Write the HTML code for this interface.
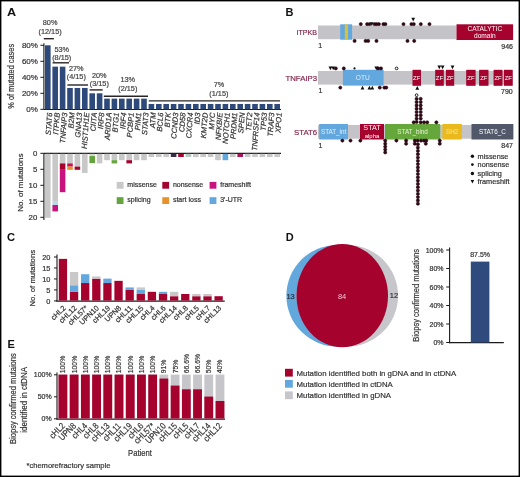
<!DOCTYPE html>
<html><head><meta charset="utf-8"><style>
html,body{margin:0;padding:0;background:#fff;}
svg{display:block;font-family:"Liberation Sans",sans-serif;will-change:transform;}
text{stroke-width:0.2px;}
text[font-weight="bold"]{stroke-width:0;}
</style></head><body>
<svg width="520" height="477" viewBox="0 0 520 477">
<rect x="0" y="0" width="520" height="477" fill="#fff"/>
<text transform="translate(7.0,15.7) scale(1.12,1)" x="0" y="0" font-size="11.3" font-weight="bold" fill="#111" stroke="#111">A</text>
<line x1="43.9" y1="43.3" x2="43.9" y2="109.8" stroke="#1a1a1a" stroke-width="1.1"/>
<line x1="44" y1="109.5" x2="281" y2="109.5" stroke="#1a1a1a" stroke-width="1.1"/>
<line x1="40.4" y1="45.3" x2="43.9" y2="45.3" stroke="#1a1a1a" stroke-width="1"/>
<text x="37.9" y="48.099999999999994" font-size="8" text-anchor="end" fill="#333" stroke="#333" font-weight="normal"  style="">80%</text>
<line x1="40.4" y1="61.3" x2="43.9" y2="61.3" stroke="#1a1a1a" stroke-width="1"/>
<text x="37.9" y="64.1" font-size="8" text-anchor="end" fill="#333" stroke="#333" font-weight="normal"  style="">60%</text>
<line x1="40.4" y1="77.3" x2="43.9" y2="77.3" stroke="#1a1a1a" stroke-width="1"/>
<text x="37.9" y="80.1" font-size="8" text-anchor="end" fill="#333" stroke="#333" font-weight="normal"  style="">40%</text>
<line x1="40.4" y1="93.3" x2="43.9" y2="93.3" stroke="#1a1a1a" stroke-width="1"/>
<text x="37.9" y="96.1" font-size="8" text-anchor="end" fill="#333" stroke="#333" font-weight="normal"  style="">20%</text>
<line x1="40.4" y1="109.3" x2="43.9" y2="109.3" stroke="#1a1a1a" stroke-width="1"/>
<text x="37.9" y="112.1" font-size="8" text-anchor="end" fill="#333" stroke="#333" font-weight="normal"  style="">0%</text>
<text transform="translate(14.3,76.3) rotate(-90) scale(0.9,1)" font-size="8.2" text-anchor="middle" fill="#333" stroke="#333">% of mutated cases</text>
<rect x="45.00" y="45.30" width="5.60" height="64.00" fill="#2e4a7b" />
<text transform="translate(52.40,112.8) rotate(-86)" font-size="7.6" font-style="italic" text-anchor="end" fill="#333" stroke="#333">STAT6</text>
<rect x="52.40" y="66.64" width="5.60" height="42.66" fill="#2e4a7b" />
<text transform="translate(59.80,112.8) rotate(-86)" font-size="7.6" font-style="italic" text-anchor="end" fill="#333" stroke="#333">ITPKB</text>
<rect x="59.80" y="66.64" width="5.60" height="42.66" fill="#2e4a7b" />
<text transform="translate(67.20,112.8) rotate(-86)" font-size="7.6" font-style="italic" text-anchor="end" fill="#333" stroke="#333">TNFAIP3</text>
<rect x="67.20" y="87.96" width="5.60" height="21.34" fill="#2e4a7b" />
<text transform="translate(74.60,112.8) rotate(-86)" font-size="7.6" font-style="italic" text-anchor="end" fill="#333" stroke="#333">B2M</text>
<rect x="74.60" y="87.96" width="5.60" height="21.34" fill="#2e4a7b" />
<text transform="translate(82.00,112.8) rotate(-86)" font-size="7.6" font-style="italic" text-anchor="end" fill="#333" stroke="#333">GNA13</text>
<rect x="82.00" y="87.96" width="5.60" height="21.34" fill="#2e4a7b" />
<text transform="translate(89.40,112.8) rotate(-86)" font-size="7.6" font-style="italic" text-anchor="end" fill="#333" stroke="#333">HIST1H1E</text>
<rect x="89.40" y="93.30" width="5.60" height="16.00" fill="#2e4a7b" />
<text transform="translate(96.80,112.8) rotate(-86)" font-size="7.6" font-style="italic" text-anchor="end" fill="#333" stroke="#333">CIITA</text>
<rect x="96.80" y="93.30" width="5.60" height="16.00" fill="#2e4a7b" />
<text transform="translate(104.20,112.8) rotate(-86)" font-size="7.6" font-style="italic" text-anchor="end" fill="#333" stroke="#333">IRF8</text>
<rect x="104.20" y="98.64" width="5.60" height="10.66" fill="#2e4a7b" />
<text transform="translate(111.60,112.8) rotate(-86)" font-size="7.6" font-style="italic" text-anchor="end" fill="#333" stroke="#333">ARID1A</text>
<rect x="111.60" y="98.64" width="5.60" height="10.66" fill="#2e4a7b" />
<text transform="translate(119.00,112.8) rotate(-86)" font-size="7.6" font-style="italic" text-anchor="end" fill="#333" stroke="#333">BTG1</text>
<rect x="119.00" y="98.64" width="5.60" height="10.66" fill="#2e4a7b" />
<text transform="translate(126.40,112.8) rotate(-86)" font-size="7.6" font-style="italic" text-anchor="end" fill="#333" stroke="#333">IRF4</text>
<rect x="126.40" y="98.64" width="5.60" height="10.66" fill="#2e4a7b" />
<text transform="translate(133.80,112.8) rotate(-86)" font-size="7.6" font-style="italic" text-anchor="end" fill="#333" stroke="#333">PCBP1</text>
<rect x="133.80" y="98.64" width="5.60" height="10.66" fill="#2e4a7b" />
<text transform="translate(141.20,112.8) rotate(-86)" font-size="7.6" font-style="italic" text-anchor="end" fill="#333" stroke="#333">PIM1</text>
<rect x="141.20" y="98.64" width="5.60" height="10.66" fill="#2e4a7b" />
<text transform="translate(148.60,112.8) rotate(-86)" font-size="7.6" font-style="italic" text-anchor="end" fill="#333" stroke="#333">STAT3</text>
<rect x="148.60" y="103.96" width="5.60" height="5.34" fill="#2e4a7b" />
<text transform="translate(156.00,112.8) rotate(-86)" font-size="7.6" font-style="italic" text-anchor="end" fill="#333" stroke="#333">ATM</text>
<rect x="156.00" y="103.96" width="5.60" height="5.34" fill="#2e4a7b" />
<text transform="translate(163.40,112.8) rotate(-86)" font-size="7.6" font-style="italic" text-anchor="end" fill="#333" stroke="#333">BCL6</text>
<rect x="163.40" y="103.96" width="5.60" height="5.34" fill="#2e4a7b" />
<text transform="translate(170.80,112.8) rotate(-86)" font-size="7.6" font-style="italic" text-anchor="end" fill="#333" stroke="#333">BTK</text>
<rect x="170.80" y="103.96" width="5.60" height="5.34" fill="#2e4a7b" />
<text transform="translate(178.20,112.8) rotate(-86)" font-size="7.6" font-style="italic" text-anchor="end" fill="#333" stroke="#333">CCND3</text>
<rect x="178.20" y="103.96" width="5.60" height="5.34" fill="#2e4a7b" />
<text transform="translate(185.60,112.8) rotate(-86)" font-size="7.6" font-style="italic" text-anchor="end" fill="#333" stroke="#333">CD58</text>
<rect x="185.60" y="103.96" width="5.60" height="5.34" fill="#2e4a7b" />
<text transform="translate(193.00,112.8) rotate(-86)" font-size="7.6" font-style="italic" text-anchor="end" fill="#333" stroke="#333">CXCR4</text>
<rect x="193.00" y="103.96" width="5.60" height="5.34" fill="#2e4a7b" />
<text transform="translate(200.40,112.8) rotate(-86)" font-size="7.6" font-style="italic" text-anchor="end" fill="#333" stroke="#333">ID3</text>
<rect x="200.40" y="103.96" width="5.60" height="5.34" fill="#2e4a7b" />
<text transform="translate(207.80,112.8) rotate(-86)" font-size="7.6" font-style="italic" text-anchor="end" fill="#333" stroke="#333">KMT2D</text>
<rect x="207.80" y="103.96" width="5.60" height="5.34" fill="#2e4a7b" />
<text transform="translate(215.20,112.8) rotate(-86)" font-size="7.6" font-style="italic" text-anchor="end" fill="#333" stroke="#333">MYC</text>
<rect x="215.20" y="103.96" width="5.60" height="5.34" fill="#2e4a7b" />
<text transform="translate(222.60,112.8) rotate(-86)" font-size="7.6" font-style="italic" text-anchor="end" fill="#333" stroke="#333">NFKBIE</text>
<rect x="222.60" y="103.96" width="5.60" height="5.34" fill="#2e4a7b" />
<text transform="translate(230.00,112.8) rotate(-86)" font-size="7.6" font-style="italic" text-anchor="end" fill="#333" stroke="#333">NOTCH1</text>
<rect x="230.00" y="103.96" width="5.60" height="5.34" fill="#2e4a7b" />
<text transform="translate(237.40,112.8) rotate(-86)" font-size="7.6" font-style="italic" text-anchor="end" fill="#333" stroke="#333">PRDM1</text>
<rect x="237.40" y="103.96" width="5.60" height="5.34" fill="#2e4a7b" />
<text transform="translate(244.80,112.8) rotate(-86)" font-size="7.6" font-style="italic" text-anchor="end" fill="#333" stroke="#333">SPEN</text>
<rect x="244.80" y="103.96" width="5.60" height="5.34" fill="#2e4a7b" />
<text transform="translate(252.20,112.8) rotate(-86)" font-size="7.6" font-style="italic" text-anchor="end" fill="#333" stroke="#333">TET2</text>
<rect x="252.20" y="103.96" width="5.60" height="5.34" fill="#2e4a7b" />
<text transform="translate(259.60,112.8) rotate(-86)" font-size="7.6" font-style="italic" text-anchor="end" fill="#333" stroke="#333">TNFRSF14</text>
<rect x="259.60" y="103.96" width="5.60" height="5.34" fill="#2e4a7b" />
<text transform="translate(267.00,112.8) rotate(-86)" font-size="7.6" font-style="italic" text-anchor="end" fill="#333" stroke="#333">TP53</text>
<rect x="267.00" y="103.96" width="5.60" height="5.34" fill="#2e4a7b" />
<text transform="translate(274.40,112.8) rotate(-86)" font-size="7.6" font-style="italic" text-anchor="end" fill="#333" stroke="#333">TRAF3</text>
<rect x="274.40" y="103.96" width="5.60" height="5.34" fill="#2e4a7b" />
<text transform="translate(281.80,112.8) rotate(-86)" font-size="7.6" font-style="italic" text-anchor="end" fill="#333" stroke="#333">XPO1</text>
<text x="50.099999999999994" y="25.2" font-size="7.3" text-anchor="middle" fill="#444" stroke="#444" font-weight="normal"  style="">80%</text>
<text x="50.099999999999994" y="34.2" font-size="7.3" text-anchor="middle" fill="#444" stroke="#444" font-weight="normal"  style="">(12/15)</text>
<line x1="43.8" y1="38.7" x2="53.9" y2="38.7" stroke="#2a2424" stroke-width="1.4"/>
<text x="61.699999999999996" y="52.1" font-size="7.3" text-anchor="middle" fill="#444" stroke="#444" font-weight="normal"  style="">53%</text>
<text x="61.699999999999996" y="60.0" font-size="7.3" text-anchor="middle" fill="#444" stroke="#444" font-weight="normal"  style="">(8/15)</text>
<line x1="52.6" y1="62.8" x2="69.0" y2="62.8" stroke="#2a2424" stroke-width="1.4"/>
<text x="76.3" y="71.0" font-size="7.3" text-anchor="middle" fill="#444" stroke="#444" font-weight="normal"  style="">27%</text>
<text x="76.3" y="79.2" font-size="7.3" text-anchor="middle" fill="#444" stroke="#444" font-weight="normal"  style="">(4/15)</text>
<line x1="67.4" y1="85.0" x2="88.0" y2="85.0" stroke="#2a2424" stroke-width="1.4"/>
<text x="99.3" y="78.0" font-size="7.3" text-anchor="middle" fill="#444" stroke="#444" font-weight="normal"  style="">20%</text>
<text x="99.3" y="86.3" font-size="7.3" text-anchor="middle" fill="#444" stroke="#444" font-weight="normal"  style="">(3/15)</text>
<line x1="89.6" y1="89.9" x2="102.7" y2="89.9" stroke="#2a2424" stroke-width="1.4"/>
<text x="127.8" y="82.4" font-size="7.3" text-anchor="middle" fill="#444" stroke="#444" font-weight="normal"  style="">13%</text>
<text x="127.8" y="91.3" font-size="7.3" text-anchor="middle" fill="#444" stroke="#444" font-weight="normal"  style="">(2/15)</text>
<line x1="103.8" y1="96.2" x2="148.0" y2="96.2" stroke="#2a2424" stroke-width="1.4"/>
<text x="218.9" y="86.6" font-size="7.3" text-anchor="middle" fill="#444" stroke="#444" font-weight="normal"  style="">7%</text>
<text x="218.9" y="95.8" font-size="7.3" text-anchor="middle" fill="#444" stroke="#444" font-weight="normal"  style="">(1/15)</text>
<line x1="148.8" y1="100.9" x2="280.0" y2="100.9" stroke="#2a2424" stroke-width="1.4"/>
<line x1="44" y1="153.3" x2="281" y2="153.3" stroke="#1a1a1a" stroke-width="1.2"/>
<line x1="43.9" y1="153" x2="43.9" y2="220" stroke="#1a1a1a" stroke-width="1.1"/>
<line x1="40.4" y1="153.3" x2="43.9" y2="153.3" stroke="#1a1a1a" stroke-width="1"/>
<text x="37.3" y="156.10000000000002" font-size="7.8" text-anchor="end" fill="#333" stroke="#333" font-weight="normal"  style="">0</text>
<line x1="40.4" y1="169.3" x2="43.9" y2="169.3" stroke="#1a1a1a" stroke-width="1"/>
<text x="37.3" y="172.10000000000002" font-size="7.8" text-anchor="end" fill="#333" stroke="#333" font-weight="normal"  style="">5</text>
<line x1="40.4" y1="185.3" x2="43.9" y2="185.3" stroke="#1a1a1a" stroke-width="1"/>
<text x="37.3" y="188.10000000000002" font-size="7.8" text-anchor="end" fill="#333" stroke="#333" font-weight="normal"  style="">10</text>
<line x1="40.4" y1="201.3" x2="43.9" y2="201.3" stroke="#1a1a1a" stroke-width="1"/>
<text x="37.3" y="204.10000000000002" font-size="7.8" text-anchor="end" fill="#333" stroke="#333" font-weight="normal"  style="">15</text>
<line x1="40.4" y1="217.3" x2="43.9" y2="217.3" stroke="#1a1a1a" stroke-width="1"/>
<text x="37.3" y="220.10000000000002" font-size="7.8" text-anchor="end" fill="#333" stroke="#333" font-weight="normal"  style="">20</text>
<text transform="translate(22.8,182.6) rotate(-90)" font-size="8.0" text-anchor="middle" fill="#333" stroke="#333">No. of mutations</text>
<rect x="45.00" y="153.80" width="5.60" height="64.00" fill="#c8c8c9" />
<rect x="52.40" y="153.80" width="5.60" height="48.00" fill="#c8c8c9" />
<rect x="52.40" y="201.80" width="5.60" height="3.20" fill="#bcd6ea" />
<rect x="52.40" y="205.00" width="5.60" height="6.40" fill="#c8127e" />
<rect x="59.80" y="153.80" width="5.60" height="9.60" fill="#c8c8c9" />
<rect x="59.80" y="163.40" width="5.60" height="6.40" fill="#a5022e" />
<rect x="59.80" y="169.80" width="5.60" height="22.40" fill="#c8127e" />
<rect x="67.20" y="153.80" width="5.60" height="9.60" fill="#c8c8c9" />
<rect x="67.20" y="163.40" width="5.60" height="3.20" fill="#c8104e" />
<rect x="67.20" y="166.60" width="5.60" height="3.20" fill="#e8902a" />
<rect x="74.60" y="153.80" width="5.60" height="12.80" fill="#c8c8c9" />
<rect x="74.60" y="166.60" width="5.60" height="3.20" fill="#a5022e" />
<rect x="82.00" y="153.80" width="5.60" height="19.20" fill="#c8c8c9" />
<rect x="89.40" y="153.80" width="5.60" height="2.24" fill="#d4d8d0" />
<rect x="89.40" y="156.04" width="5.60" height="7.04" fill="#64a43c" />
<rect x="96.80" y="153.80" width="5.60" height="9.60" fill="#c8c8c9" />
<rect x="104.20" y="153.80" width="5.60" height="6.40" fill="#c8c8c9" />
<rect x="111.60" y="153.80" width="5.60" height="6.40" fill="#c8c8c9" />
<rect x="111.60" y="160.20" width="5.60" height="3.20" fill="#64a43c" />
<rect x="119.00" y="153.80" width="5.60" height="6.40" fill="#c8c8c9" />
<rect x="126.40" y="153.80" width="5.60" height="6.40" fill="#c8c8c9" />
<rect x="126.40" y="160.20" width="5.60" height="3.20" fill="#a5022e" />
<rect x="133.80" y="153.80" width="5.60" height="6.40" fill="#c8c8c9" />
<rect x="141.20" y="153.80" width="5.60" height="6.40" fill="#c8c8c9" />
<rect x="148.60" y="153.80" width="5.60" height="3.20" fill="#c8c8c9" />
<rect x="156.00" y="153.80" width="5.60" height="3.20" fill="#c8c8c9" />
<rect x="163.40" y="153.80" width="5.60" height="3.20" fill="#c8c8c9" />
<rect x="170.80" y="153.80" width="5.60" height="3.20" fill="#3a2d48" />
<rect x="178.20" y="153.80" width="5.60" height="3.20" fill="#a5022e" />
<rect x="185.60" y="153.80" width="5.60" height="3.20" fill="#b8c6c2" />
<rect x="193.00" y="153.80" width="5.60" height="3.20" fill="#c8c8c9" />
<rect x="200.40" y="153.80" width="5.60" height="3.20" fill="#c8c8c9" />
<rect x="207.80" y="153.80" width="5.60" height="3.20" fill="#c8c8c9" />
<rect x="215.20" y="153.80" width="5.60" height="6.40" fill="#c8c8c9" />
<rect x="222.60" y="153.80" width="5.60" height="6.40" fill="#62a7de" />
<rect x="230.00" y="153.80" width="5.60" height="3.20" fill="#c8c8c9" />
<rect x="237.40" y="153.80" width="5.60" height="3.20" fill="#a8155a" />
<rect x="244.80" y="153.80" width="5.60" height="3.20" fill="#c8c8c9" />
<rect x="252.20" y="153.80" width="5.60" height="3.20" fill="#c8c8c9" />
<rect x="259.60" y="153.80" width="5.60" height="3.20" fill="#c8c8c9" />
<rect x="267.00" y="153.80" width="5.60" height="3.20" fill="#c8c8c9" />
<rect x="274.40" y="153.80" width="5.60" height="3.20" fill="#c8c8c9" />
<rect x="116.70" y="181.90" width="6.80" height="6.80" fill="#c8c8c9" />
<text x="127.3" y="186.9" font-size="7" text-anchor="start" fill="#333" stroke="#333" font-weight="normal"  style="">missense</text>
<rect x="162.30" y="181.90" width="6.80" height="6.80" fill="#a5022e" />
<text x="172.9" y="186.9" font-size="7" text-anchor="start" fill="#333" stroke="#333" font-weight="normal"  style="">nonsense</text>
<rect x="209.60" y="181.90" width="6.80" height="6.80" fill="#c8127e" />
<text x="220.2" y="186.9" font-size="7" text-anchor="start" fill="#333" stroke="#333" font-weight="normal"  style="">frameshift</text>
<rect x="116.70" y="197.20" width="6.80" height="6.80" fill="#64a43c" />
<text x="127.3" y="202.2" font-size="7" text-anchor="start" fill="#333" stroke="#333" font-weight="normal"  style="">splicing</text>
<rect x="162.30" y="197.20" width="6.80" height="6.80" fill="#e8902a" />
<text x="172.9" y="202.2" font-size="7" text-anchor="start" fill="#333" stroke="#333" font-weight="normal"  style="">start loss</text>
<rect x="209.60" y="197.20" width="6.80" height="6.80" fill="#62a7de" />
<text x="220.2" y="202.2" font-size="7" text-anchor="start" fill="#333" stroke="#333" font-weight="normal"  style="">3'-UTR</text>
<text x="285.6" y="15.7" font-size="11" text-anchor="start" fill="#111" stroke="#111" font-weight="bold"  style="">B</text>
<text x="296.6" y="34.8" font-size="8" fill="#86264a" stroke="#86264a" textLength="20.4" lengthAdjust="spacingAndGlyphs">ITPKB</text>
<rect x="318.00" y="25.50" width="138.50" height="13.70" fill="#c4c3c7" />
<rect x="340.20" y="24.30" width="11.90" height="15.40" fill="#62a7de" />
<rect x="344.80" y="24.30" width="3.20" height="15.40" fill="#d6c23a" />
<rect x="456.50" y="24.30" width="56.60" height="15.70" fill="#a5022e" />
<text x="484.8" y="31.0" font-size="6.6" text-anchor="middle" fill="#fff" font-weight="normal"  style="">CATALYTIC</text>
<text x="484.8" y="38.3" font-size="6.6" text-anchor="middle" fill="#fff" font-weight="normal"  style="">domain</text>
<text x="318.2" y="48.3" font-size="7" text-anchor="start" fill="#333" stroke="#333" font-weight="normal"  style="">1</text>
<text x="513" y="48.6" font-size="7" text-anchor="end" fill="#333" stroke="#333" font-weight="normal"  style="">946</text>
<circle cx="360.8" cy="24.1" r="1.6" fill="#34081a" stroke="#1a0206" stroke-width="0.5"/>
<circle cx="367.1" cy="24.1" r="1.6" fill="#34081a" stroke="#1a0206" stroke-width="0.5"/>
<circle cx="369.5" cy="24.1" r="1.6" fill="#34081a" stroke="#1a0206" stroke-width="0.5"/>
<circle cx="374.6" cy="24.1" r="1.6" fill="#34081a" stroke="#1a0206" stroke-width="0.5"/>
<circle cx="376.6" cy="24.1" r="1.6" fill="#34081a" stroke="#1a0206" stroke-width="0.5"/>
<circle cx="378.9" cy="24.1" r="1.6" fill="#34081a" stroke="#1a0206" stroke-width="0.5"/>
<circle cx="383.4" cy="24.1" r="1.6" fill="#34081a" stroke="#1a0206" stroke-width="0.5"/>
<circle cx="385.4" cy="24.1" r="1.6" fill="#34081a" stroke="#1a0206" stroke-width="0.5"/>
<circle cx="403.5" cy="24.1" r="1.6" fill="#34081a" stroke="#1a0206" stroke-width="0.5"/>
<circle cx="411.4" cy="24.1" r="1.6" fill="#34081a" stroke="#1a0206" stroke-width="0.5"/>
<circle cx="413.8" cy="24.1" r="1.6" fill="#34081a" stroke="#1a0206" stroke-width="0.5"/>
<circle cx="420.8" cy="24.1" r="1.6" fill="#34081a" stroke="#1a0206" stroke-width="0.5"/>
<circle cx="429.5" cy="24.1" r="1.6" fill="#34081a" stroke="#1a0206" stroke-width="0.5"/>
<path d="M369.90,22.20 L373.70,22.20 L371.80,26.00Z" fill="#111"/>
<path d="M411.30,17.70 L415.10,17.70 L413.20,21.50Z" fill="#111"/>
<circle cx="354.6" cy="40.9" r="1.6" fill="#34081a" stroke="#1a0206" stroke-width="0.5"/>
<circle cx="365.6" cy="40.9" r="1.6" fill="#34081a" stroke="#1a0206" stroke-width="0.5"/>
<circle cx="368.2" cy="40.9" r="1.6" fill="#34081a" stroke="#1a0206" stroke-width="0.5"/>
<circle cx="376.5" cy="40.9" r="1.6" fill="#34081a" stroke="#1a0206" stroke-width="0.5"/>
<circle cx="407.5" cy="40.9" r="1.6" fill="#34081a" stroke="#1a0206" stroke-width="0.5"/>
<circle cx="414.2" cy="40.9" r="1.6" fill="#34081a" stroke="#1a0206" stroke-width="0.5"/>
<text x="285.4" y="81.0" font-size="8" fill="#86264a" stroke="#86264a" textLength="31.8" lengthAdjust="spacingAndGlyphs">TNFAIP3</text>
<rect x="318.00" y="71.00" width="194.70" height="13.60" fill="#c4c3c7" />
<rect x="342.90" y="69.80" width="40.70" height="15.80" fill="#62a7de" />
<text x="362.8" y="79.6" font-size="6.6" text-anchor="middle" fill="#dcecf8" font-weight="normal"  style="">OTU</text>
<rect x="412.50" y="69.80" width="8.50" height="16.00" fill="#a5022e" />
<text x="416.75" y="80.0" font-size="6" text-anchor="middle" fill="#fff" font-weight="normal"  style="">ZF</text>
<rect x="435.20" y="69.80" width="8.60" height="16.00" fill="#a5022e" />
<text x="439.5" y="80.0" font-size="6" text-anchor="middle" fill="#fff" font-weight="normal"  style="">ZF</text>
<rect x="445.90" y="69.80" width="8.30" height="16.00" fill="#a5022e" />
<text x="450.04999999999995" y="80.0" font-size="6" text-anchor="middle" fill="#fff" font-weight="normal"  style="">ZF</text>
<rect x="466.20" y="69.80" width="9.40" height="16.00" fill="#a5022e" />
<text x="470.9" y="80.0" font-size="6" text-anchor="middle" fill="#fff" font-weight="normal"  style="">ZF</text>
<rect x="479.10" y="69.80" width="9.40" height="16.00" fill="#a5022e" />
<text x="483.8" y="80.0" font-size="6" text-anchor="middle" fill="#fff" font-weight="normal"  style="">ZF</text>
<rect x="493.60" y="69.80" width="8.90" height="16.00" fill="#a5022e" />
<text x="498.05" y="80.0" font-size="6" text-anchor="middle" fill="#fff" font-weight="normal"  style="">ZF</text>
<rect x="503.90" y="69.80" width="8.80" height="16.00" fill="#a5022e" />
<text x="508.3" y="80.0" font-size="6" text-anchor="middle" fill="#fff" font-weight="normal"  style="">ZF</text>
<text x="318.6" y="93.3" font-size="7" text-anchor="start" fill="#333" stroke="#333" font-weight="normal"  style="">1</text>
<text x="512.7" y="93.6" font-size="7" text-anchor="end" fill="#333" stroke="#333" font-weight="normal"  style="">790</text>
<path d="M328.50,66.50 L332.30,66.50 L330.40,70.30Z" fill="#111"/>
<path d="M331.30,66.50 L335.10,66.50 L333.20,70.30Z" fill="#111"/>
<circle cx="335.8" cy="68.4" r="1.6" fill="#34081a" stroke="#1a0206" stroke-width="0.5"/>
<circle cx="343.8" cy="68.4" r="1.6" fill="#34081a" stroke="#1a0206" stroke-width="0.5"/>
<circle cx="354.5" cy="68.4" r="1.1" fill="#111"/>
<path d="M374.40,66.50 L378.20,66.50 L376.30,70.30Z" fill="#111"/>
<circle cx="378.2" cy="68.4" r="1.6" fill="#34081a" stroke="#1a0206" stroke-width="0.5"/>
<circle cx="381.0" cy="68.4" r="1.6" fill="#34081a" stroke="#1a0206" stroke-width="0.5"/>
<circle cx="396.6" cy="68.4" r="1.35" fill="#fff" stroke="#1a1a1a" stroke-width="1.0"/>
<path d="M437.40,65.40 L441.20,65.40 L439.30,69.20Z" fill="#111"/>
<path d="M440.70,65.40 L444.50,65.40 L442.60,69.20Z" fill="#111"/>
<path d="M450.60,65.40 L454.40,65.40 L452.50,69.20Z" fill="#111"/>
<circle cx="340.3" cy="87.6" r="1.6" fill="#34081a" stroke="#1a0206" stroke-width="0.5"/>
<path d="M360.60,89.50 L364.40,89.50 L362.50,85.70Z" fill="#111"/>
<path d="M367.50,89.50 L371.30,89.50 L369.40,85.70Z" fill="#111"/>
<path d="M370.40,89.50 L374.20,89.50 L372.30,85.70Z" fill="#111"/>
<circle cx="379.8" cy="87.6" r="1.6" fill="#34081a" stroke="#1a0206" stroke-width="0.5"/>
<circle cx="384.4" cy="87.6" r="1.6" fill="#34081a" stroke="#1a0206" stroke-width="0.5"/>
<circle cx="386.3" cy="87.6" r="1.6" fill="#34081a" stroke="#1a0206" stroke-width="0.5"/>
<path d="M415.40,89.70 L419.20,89.70 L417.30,85.90Z" fill="#111"/>
<text x="294.1" y="134.7" font-size="8" fill="#86264a" stroke="#86264a" textLength="23.0" lengthAdjust="spacingAndGlyphs">STAT6</text>
<rect x="318.00" y="125.00" width="195.30" height="13.70" fill="#c4c3c7" />
<rect x="319.20" y="124.00" width="28.80" height="15.50" fill="#62a7de" />
<text x="333.6" y="133.8" font-size="6.3" text-anchor="middle" fill="#e6f1fa" font-weight="normal"  style="">STAT_int</text>
<rect x="360.00" y="124.00" width="24.00" height="15.50" fill="#a5022e" />
<rect x="385.00" y="124.00" width="55.20" height="15.50" fill="#66a73c" />
<text x="412.6" y="133.8" font-size="6.3" text-anchor="middle" fill="#e6f2d6" font-weight="normal"  style="">STAT_bind</text>
<rect x="442.40" y="124.00" width="19.40" height="15.50" fill="#e9b91e" />
<text x="452.1" y="133.8" font-size="6.3" text-anchor="middle" fill="#f9e9a8" font-weight="normal"  style="">SH2</text>
<rect x="471.50" y="124.00" width="41.80" height="15.50" fill="#51586a" />
<text x="492.4" y="133.8" font-size="6.3" text-anchor="middle" fill="#fff" font-weight="normal"  style="">STAT6_C</text>
<text x="372.0" y="130.4" font-size="7.2" text-anchor="middle" fill="#fff" font-weight="normal"  style="">STAT</text>
<text x="372.0" y="137.6" font-size="6.0" text-anchor="middle" fill="#fff" font-weight="normal"  style="">alpha</text>
<text x="318.4" y="147.6" font-size="7" text-anchor="start" fill="#333" stroke="#333" font-weight="normal"  style="">1</text>
<text x="513.0" y="148.0" font-size="7" text-anchor="end" fill="#333" stroke="#333" font-weight="normal"  style="">847</text>
<circle cx="416.6" cy="95.2" r="1.35" fill="#fff" stroke="#1a1a1a" stroke-width="1.0"/>
<circle cx="416.6" cy="98.8" r="1.6" fill="#34081a" stroke="#1a0206" stroke-width="0.5"/>
<circle cx="416.6" cy="102.1" r="1.6" fill="#34081a" stroke="#1a0206" stroke-width="0.5"/>
<circle cx="416.6" cy="105.39999999999999" r="1.6" fill="#34081a" stroke="#1a0206" stroke-width="0.5"/>
<circle cx="416.6" cy="108.69999999999999" r="1.6" fill="#34081a" stroke="#1a0206" stroke-width="0.5"/>
<circle cx="416.6" cy="112.0" r="1.6" fill="#34081a" stroke="#1a0206" stroke-width="0.5"/>
<circle cx="416.6" cy="115.3" r="1.6" fill="#34081a" stroke="#1a0206" stroke-width="0.5"/>
<circle cx="416.6" cy="118.6" r="1.6" fill="#34081a" stroke="#1a0206" stroke-width="0.5"/>
<circle cx="416.6" cy="121.89999999999999" r="1.6" fill="#34081a" stroke="#1a0206" stroke-width="0.5"/>
<circle cx="420.7" cy="98.8" r="1.6" fill="#34081a" stroke="#1a0206" stroke-width="0.5"/>
<circle cx="420.7" cy="102.1" r="1.6" fill="#34081a" stroke="#1a0206" stroke-width="0.5"/>
<circle cx="420.7" cy="105.39999999999999" r="1.6" fill="#34081a" stroke="#1a0206" stroke-width="0.5"/>
<circle cx="420.7" cy="108.69999999999999" r="1.6" fill="#34081a" stroke="#1a0206" stroke-width="0.5"/>
<circle cx="420.7" cy="112.0" r="1.6" fill="#34081a" stroke="#1a0206" stroke-width="0.5"/>
<circle cx="420.7" cy="115.3" r="1.6" fill="#34081a" stroke="#1a0206" stroke-width="0.5"/>
<circle cx="420.7" cy="118.6" r="1.6" fill="#34081a" stroke="#1a0206" stroke-width="0.5"/>
<circle cx="413.7" cy="122.3" r="1.6" fill="#34081a" stroke="#1a0206" stroke-width="0.5"/>
<circle cx="420.7" cy="122.3" r="1.6" fill="#34081a" stroke="#1a0206" stroke-width="0.5"/>
<circle cx="424.0" cy="122.3" r="1.6" fill="#34081a" stroke="#1a0206" stroke-width="0.5"/>
<circle cx="427.2" cy="122.3" r="1.6" fill="#34081a" stroke="#1a0206" stroke-width="0.5"/>
<circle cx="436.4" cy="122.3" r="1.6" fill="#34081a" stroke="#1a0206" stroke-width="0.5"/>
<circle cx="342.4" cy="140.6" r="1.6" fill="#34081a" stroke="#1a0206" stroke-width="0.5"/>
<circle cx="350.5" cy="140.6" r="1.6" fill="#34081a" stroke="#1a0206" stroke-width="0.5"/>
<circle cx="360.4" cy="140.6" r="1.6" fill="#34081a" stroke="#1a0206" stroke-width="0.5"/>
<circle cx="385.2" cy="140.6" r="1.6" fill="#34081a" stroke="#1a0206" stroke-width="0.5"/>
<circle cx="396.4" cy="140.6" r="1.6" fill="#34081a" stroke="#1a0206" stroke-width="0.5"/>
<circle cx="406.1" cy="140.6" r="1.6" fill="#34081a" stroke="#1a0206" stroke-width="0.5"/>
<circle cx="414.8" cy="140.6" r="1.6" fill="#34081a" stroke="#1a0206" stroke-width="0.5"/>
<circle cx="417.6" cy="140.6" r="1.6" fill="#34081a" stroke="#1a0206" stroke-width="0.5"/>
<circle cx="421.0" cy="140.6" r="1.6" fill="#34081a" stroke="#1a0206" stroke-width="0.5"/>
<circle cx="423.9" cy="140.6" r="1.6" fill="#34081a" stroke="#1a0206" stroke-width="0.5"/>
<circle cx="426.3" cy="140.6" r="1.6" fill="#34081a" stroke="#1a0206" stroke-width="0.5"/>
<circle cx="439.8" cy="140.6" r="1.6" fill="#34081a" stroke="#1a0206" stroke-width="0.5"/>
<circle cx="406.1" cy="143.7" r="1.6" fill="#34081a" stroke="#1a0206" stroke-width="0.5"/>
<circle cx="414.8" cy="143.7" r="1.6" fill="#34081a" stroke="#1a0206" stroke-width="0.5"/>
<circle cx="425.8" cy="143.7" r="1.6" fill="#34081a" stroke="#1a0206" stroke-width="0.5"/>
<circle cx="439.8" cy="143.7" r="1.6" fill="#34081a" stroke="#1a0206" stroke-width="0.5"/>
<circle cx="385.2" cy="143.7" r="1.6" fill="#34081a" stroke="#1a0206" stroke-width="0.5"/>
<circle cx="385.2" cy="146.6" r="1.6" fill="#34081a" stroke="#1a0206" stroke-width="0.5"/>
<circle cx="385.2" cy="149.5" r="1.6" fill="#34081a" stroke="#1a0206" stroke-width="0.5"/>
<circle cx="385.2" cy="152.39999999999998" r="1.6" fill="#34081a" stroke="#1a0206" stroke-width="0.5"/>
<circle cx="417.9" cy="203.7" r="1.6" fill="#34081a" stroke="#1a0206" stroke-width="0.5"/>
<circle cx="417.9" cy="200.39999999999998" r="1.6" fill="#34081a" stroke="#1a0206" stroke-width="0.5"/>
<circle cx="417.9" cy="197.1" r="1.6" fill="#34081a" stroke="#1a0206" stroke-width="0.5"/>
<circle cx="417.9" cy="193.79999999999998" r="1.6" fill="#34081a" stroke="#1a0206" stroke-width="0.5"/>
<circle cx="417.9" cy="190.5" r="1.6" fill="#34081a" stroke="#1a0206" stroke-width="0.5"/>
<circle cx="417.9" cy="187.2" r="1.6" fill="#34081a" stroke="#1a0206" stroke-width="0.5"/>
<circle cx="417.9" cy="183.89999999999998" r="1.6" fill="#34081a" stroke="#1a0206" stroke-width="0.5"/>
<circle cx="417.9" cy="180.6" r="1.6" fill="#34081a" stroke="#1a0206" stroke-width="0.5"/>
<circle cx="417.9" cy="177.29999999999998" r="1.6" fill="#34081a" stroke="#1a0206" stroke-width="0.5"/>
<circle cx="417.9" cy="174.0" r="1.6" fill="#34081a" stroke="#1a0206" stroke-width="0.5"/>
<circle cx="417.9" cy="170.7" r="1.6" fill="#34081a" stroke="#1a0206" stroke-width="0.5"/>
<circle cx="417.9" cy="167.39999999999998" r="1.6" fill="#34081a" stroke="#1a0206" stroke-width="0.5"/>
<circle cx="417.9" cy="164.1" r="1.6" fill="#34081a" stroke="#1a0206" stroke-width="0.5"/>
<circle cx="417.9" cy="160.79999999999998" r="1.6" fill="#34081a" stroke="#1a0206" stroke-width="0.5"/>
<circle cx="417.9" cy="157.5" r="1.6" fill="#34081a" stroke="#1a0206" stroke-width="0.5"/>
<circle cx="417.9" cy="154.2" r="1.6" fill="#34081a" stroke="#1a0206" stroke-width="0.5"/>
<circle cx="417.9" cy="150.89999999999998" r="1.6" fill="#34081a" stroke="#1a0206" stroke-width="0.5"/>
<circle cx="417.9" cy="147.6" r="1.6" fill="#34081a" stroke="#1a0206" stroke-width="0.5"/>
<circle cx="417.9" cy="144.29999999999998" r="1.6" fill="#34081a" stroke="#1a0206" stroke-width="0.5"/>
<circle cx="472.4" cy="156.2" r="1.7" fill="#111"/>
<text x="477.6" y="158.7" font-size="7.3" text-anchor="start" fill="#333" stroke="#333" font-weight="normal"  style="">missense</text>
<circle cx="472.4" cy="164.6" r="1.35" fill="#111"/>
<text x="477.6" y="167.1" font-size="7.3" text-anchor="start" fill="#333" stroke="#333" font-weight="normal"  style="">nonsense</text>
<circle cx="472.4" cy="173.5" r="1.7" fill="#111"/>
<text x="477.6" y="176.0" font-size="7.3" text-anchor="start" fill="#333" stroke="#333" font-weight="normal"  style="">splicing</text>
<path d="M470.60,180.00 L474.20,180.00 L472.40,183.60Z" fill="#111"/>
<text x="477.6" y="184.3" font-size="7.3" text-anchor="start" fill="#333" stroke="#333" font-weight="normal"  style="">frameshift</text>
<text x="7.0" y="241.2" font-size="11.2" text-anchor="start" fill="#111" stroke="#111" font-weight="bold"  style="">C</text>
<line x1="57" y1="254.5" x2="57" y2="301.6" stroke="#1a1a1a" stroke-width="1.1"/>
<line x1="56.5" y1="301.1" x2="224.7" y2="301.1" stroke="#1a1a1a" stroke-width="1.2"/>
<line x1="54" y1="300.9" x2="57" y2="300.9" stroke="#1a1a1a" stroke-width="1"/>
<text x="50.4" y="303.5" font-size="7.4" text-anchor="end" fill="#333" stroke="#333" font-weight="normal"  style="">0</text>
<line x1="54" y1="289.91999999999996" x2="57" y2="289.91999999999996" stroke="#1a1a1a" stroke-width="1"/>
<text x="50.4" y="292.52" font-size="7.4" text-anchor="end" fill="#333" stroke="#333" font-weight="normal"  style="">5</text>
<line x1="54" y1="278.94" x2="57" y2="278.94" stroke="#1a1a1a" stroke-width="1"/>
<text x="50.4" y="281.54" font-size="7.4" text-anchor="end" fill="#333" stroke="#333" font-weight="normal"  style="">10</text>
<line x1="54" y1="267.96" x2="57" y2="267.96" stroke="#1a1a1a" stroke-width="1"/>
<text x="50.4" y="270.56" font-size="7.4" text-anchor="end" fill="#333" stroke="#333" font-weight="normal"  style="">15</text>
<line x1="54" y1="256.97999999999996" x2="57" y2="256.97999999999996" stroke="#1a1a1a" stroke-width="1"/>
<text x="50.4" y="259.58" font-size="7.4" text-anchor="end" fill="#333" stroke="#333" font-weight="normal"  style="">20</text>
<text transform="translate(35.4,278.2) rotate(-90)" font-size="7.8" text-anchor="middle" fill="#333" stroke="#333">No. of mutations</text>
<rect x="58.80" y="258.88" width="8.30" height="41.72" fill="#a5022e" />
<text transform="translate(66.15,308.6) rotate(-44)" font-size="7.4" text-anchor="end" fill="#333" stroke="#333">cHL2</text>
<rect x="69.92" y="291.82" width="8.30" height="8.78" fill="#a5022e" />
<rect x="69.92" y="285.23" width="8.30" height="6.59" fill="#62a7de" />
<rect x="69.92" y="272.05" width="8.30" height="13.18" fill="#c8c8c9" />
<text transform="translate(77.27,308.6) rotate(-44)" font-size="7.4" text-anchor="end" fill="#333" stroke="#333">cHL12</text>
<rect x="81.04" y="283.03" width="8.30" height="17.57" fill="#a5022e" />
<rect x="81.04" y="274.25" width="8.30" height="8.78" fill="#62a7de" />
<text transform="translate(88.39,308.6) rotate(-44)" font-size="7.4" text-anchor="end" fill="#333" stroke="#333">cHL57*</text>
<rect x="92.16" y="278.64" width="8.30" height="21.96" fill="#a5022e" />
<rect x="92.16" y="276.44" width="8.30" height="2.20" fill="#c8c8c9" />
<text transform="translate(99.51,308.6) rotate(-44)" font-size="7.4" text-anchor="end" fill="#333" stroke="#333">UPN10</text>
<rect x="103.28" y="283.03" width="8.30" height="17.57" fill="#a5022e" />
<rect x="103.28" y="278.64" width="8.30" height="4.39" fill="#62a7de" />
<text transform="translate(110.63,308.6) rotate(-44)" font-size="7.4" text-anchor="end" fill="#333" stroke="#333">cHL19</text>
<rect x="114.40" y="280.84" width="8.30" height="19.76" fill="#a5022e" />
<text transform="translate(121.75,308.6) rotate(-44)" font-size="7.4" text-anchor="end" fill="#333" stroke="#333">UPN8</text>
<rect x="125.52" y="289.62" width="8.30" height="10.98" fill="#a5022e" />
<rect x="125.52" y="287.42" width="8.30" height="2.20" fill="#62a7de" />
<text transform="translate(132.87,308.6) rotate(-44)" font-size="7.4" text-anchor="end" fill="#333" stroke="#333">cHL11</text>
<rect x="136.64" y="294.01" width="8.30" height="6.59" fill="#a5022e" />
<rect x="136.64" y="289.62" width="8.30" height="4.39" fill="#62a7de" />
<rect x="136.64" y="287.42" width="8.30" height="2.20" fill="#c8c8c9" />
<text transform="translate(143.99,308.6) rotate(-44)" font-size="7.4" text-anchor="end" fill="#333" stroke="#333">cHL15</text>
<rect x="147.76" y="291.82" width="8.30" height="8.78" fill="#a5022e" />
<text transform="translate(155.11,308.6) rotate(-44)" font-size="7.4" text-anchor="end" fill="#333" stroke="#333">cHL4</text>
<rect x="158.88" y="294.01" width="8.30" height="6.59" fill="#a5022e" />
<rect x="158.88" y="291.82" width="8.30" height="2.20" fill="#62a7de" />
<text transform="translate(166.23,308.6) rotate(-44)" font-size="7.4" text-anchor="end" fill="#333" stroke="#333">cHL6</text>
<rect x="170.00" y="296.21" width="8.30" height="4.39" fill="#a5022e" />
<rect x="170.00" y="291.82" width="8.30" height="4.39" fill="#c8c8c9" />
<text transform="translate(177.35,308.6) rotate(-44)" font-size="7.4" text-anchor="end" fill="#333" stroke="#333">cHL14</text>
<rect x="181.12" y="294.01" width="8.30" height="6.59" fill="#a5022e" />
<text transform="translate(188.47,308.6) rotate(-44)" font-size="7.4" text-anchor="end" fill="#333" stroke="#333">cHL8</text>
<rect x="192.24" y="296.21" width="8.30" height="4.39" fill="#a5022e" />
<rect x="192.24" y="294.01" width="8.30" height="2.20" fill="#c8c8c9" />
<text transform="translate(199.59,308.6) rotate(-44)" font-size="7.4" text-anchor="end" fill="#333" stroke="#333">cHL5</text>
<rect x="203.36" y="296.21" width="8.30" height="4.39" fill="#a5022e" />
<rect x="203.36" y="294.01" width="8.30" height="2.20" fill="#c8c8c9" />
<text transform="translate(210.71,308.6) rotate(-44)" font-size="7.4" text-anchor="end" fill="#333" stroke="#333">cHL7</text>
<rect x="214.48" y="296.21" width="8.30" height="4.39" fill="#a5022e" />
<text transform="translate(221.83,308.6) rotate(-44)" font-size="7.4" text-anchor="end" fill="#333" stroke="#333">cHL13</text>
<text x="285.8" y="240.8" font-size="11" text-anchor="start" fill="#111" stroke="#111" font-weight="bold"  style="">D</text>
<circle cx="337.2" cy="295.7" r="50.8" fill="#62a8dc"/>
<circle cx="347.25" cy="295.7" r="50.8" fill="#c7c6cb"/>
<ellipse cx="342.25" cy="295.65" rx="45.75" ry="51.65" fill="#a5022e"/>
<text x="290.6" y="298.6" font-size="7.5" text-anchor="middle" fill="#2a3040" stroke="#2a3040" font-weight="normal"  style="">13</text>
<text x="342.1" y="299.1" font-size="7.5" text-anchor="middle" fill="#f2c4cf" font-weight="normal"  style="">84</text>
<text x="394.0" y="298.4" font-size="7.5" text-anchor="middle" fill="#333" stroke="#333" font-weight="normal"  style="">12</text>
<line x1="449.6" y1="247.5" x2="449.6" y2="343.2" stroke="#1a1a1a" stroke-width="1.1"/>
<line x1="449.3" y1="342.7" x2="503.8" y2="342.7" stroke="#1a1a1a" stroke-width="1.2"/>
<line x1="446.2" y1="342.5" x2="449.6" y2="342.5" stroke="#1a1a1a" stroke-width="1"/>
<text x="443.6" y="345.0" font-size="7" text-anchor="end" fill="#333" stroke="#333" font-weight="normal"  style="">0%</text>
<line x1="446.2" y1="324.0" x2="449.6" y2="324.0" stroke="#1a1a1a" stroke-width="1"/>
<text x="443.6" y="326.5" font-size="7" text-anchor="end" fill="#333" stroke="#333" font-weight="normal"  style="">20%</text>
<line x1="446.2" y1="305.5" x2="449.6" y2="305.5" stroke="#1a1a1a" stroke-width="1"/>
<text x="443.6" y="308.0" font-size="7" text-anchor="end" fill="#333" stroke="#333" font-weight="normal"  style="">40%</text>
<line x1="446.2" y1="287.0" x2="449.6" y2="287.0" stroke="#1a1a1a" stroke-width="1"/>
<text x="443.6" y="289.5" font-size="7" text-anchor="end" fill="#333" stroke="#333" font-weight="normal"  style="">60%</text>
<line x1="446.2" y1="268.5" x2="449.6" y2="268.5" stroke="#1a1a1a" stroke-width="1"/>
<text x="443.6" y="271.0" font-size="7" text-anchor="end" fill="#333" stroke="#333" font-weight="normal"  style="">80%</text>
<line x1="446.2" y1="250.0" x2="449.6" y2="250.0" stroke="#1a1a1a" stroke-width="1"/>
<text x="443.6" y="252.5" font-size="7" text-anchor="end" fill="#333" stroke="#333" font-weight="normal"  style="">100%</text>
<rect x="470.80" y="261.60" width="18.60" height="80.90" fill="#2f4b7e" />
<text x="480.1" y="256.8" font-size="7" text-anchor="middle" fill="#333" stroke="#333" font-weight="normal"  style="">87.5%</text>
<text transform="translate(418.7,295.3) rotate(-90) scale(0.85,1)" font-size="8.9" text-anchor="middle" fill="#333" stroke="#333">Biopsy confirmed mutations</text>
<rect x="285.00" y="368.80" width="7.80" height="7.80" fill="#a5022e" />
<text x="296.6" y="375.5" font-size="7.8" text-anchor="start" fill="#333" stroke="#333" font-weight="normal"  style="">Mutation identified both in gDNA and in ctDNA</text>
<rect x="285.00" y="379.90" width="7.80" height="7.80" fill="#62a7de" />
<text x="296.6" y="386.6" font-size="7.8" text-anchor="start" fill="#333" stroke="#333" font-weight="normal"  style="">Mutation identified in ctDNA</text>
<rect x="285.00" y="391.40" width="7.80" height="7.80" fill="#c6c5ca" />
<text x="296.6" y="398.1" font-size="7.8" text-anchor="start" fill="#333" stroke="#333" font-weight="normal"  style="">Mutation identified in gDNA</text>
<text x="7.4" y="347.5" font-size="11" text-anchor="start" fill="#111" stroke="#111" font-weight="bold"  style="">E</text>
<line x1="57" y1="372.5" x2="57" y2="419.5" stroke="#1a1a1a" stroke-width="1.1"/>
<line x1="56.5" y1="419.1" x2="225.0" y2="419.1" stroke="#1a1a1a" stroke-width="1.2"/>
<line x1="54" y1="418.8" x2="57" y2="418.8" stroke="#1a1a1a" stroke-width="1"/>
<text x="51.7" y="421.3" font-size="7" text-anchor="end" fill="#333" stroke="#333" font-weight="normal"  style="">0%</text>
<line x1="54" y1="396.8" x2="57" y2="396.8" stroke="#1a1a1a" stroke-width="1"/>
<text x="51.7" y="399.3" font-size="7" text-anchor="end" fill="#333" stroke="#333" font-weight="normal"  style="">50%</text>
<line x1="54" y1="374.8" x2="57" y2="374.8" stroke="#1a1a1a" stroke-width="1"/>
<text x="51.7" y="377.3" font-size="7" text-anchor="end" fill="#333" stroke="#333" font-weight="normal"  style="">100%</text>
<text transform="translate(16.0,398.6) rotate(-90) scale(0.85,1)" font-size="8.9" text-anchor="middle" fill="#333" stroke="#333">Biopsy confirmed mutaions</text>
<text transform="translate(27.3,399.9) rotate(-90) scale(0.9,1)" font-size="8.9" text-anchor="middle" fill="#333" stroke="#333">identified in ctDNA</text>
<rect x="58.50" y="374.60" width="8.80" height="44.00" fill="#c6c5ca" />
<rect x="58.50" y="374.60" width="8.80" height="44.00" fill="#a5022e" />
<text transform="translate(65.30,373.2) rotate(-90)" font-size="6.8" text-anchor="start" fill="#333" stroke="#333">100%</text>
<text transform="translate(65.50,426.6) rotate(-45) scale(0.85,1)" font-size="9" text-anchor="end" fill="#333" stroke="#333">cHL2</text>
<rect x="69.72" y="374.60" width="8.80" height="44.00" fill="#c6c5ca" />
<rect x="69.72" y="374.60" width="8.80" height="44.00" fill="#a5022e" />
<text transform="translate(76.52,373.2) rotate(-90)" font-size="6.8" text-anchor="start" fill="#333" stroke="#333">100%</text>
<text transform="translate(76.72,426.6) rotate(-45) scale(0.85,1)" font-size="9" text-anchor="end" fill="#333" stroke="#333">UPN8</text>
<rect x="80.94" y="374.60" width="8.80" height="44.00" fill="#c6c5ca" />
<rect x="80.94" y="374.60" width="8.80" height="44.00" fill="#a5022e" />
<text transform="translate(87.74,373.2) rotate(-90)" font-size="6.8" text-anchor="start" fill="#333" stroke="#333">100%</text>
<text transform="translate(87.94,426.6) rotate(-45) scale(0.85,1)" font-size="9" text-anchor="end" fill="#333" stroke="#333">cHL4</text>
<rect x="92.16" y="374.60" width="8.80" height="44.00" fill="#c6c5ca" />
<rect x="92.16" y="374.60" width="8.80" height="44.00" fill="#a5022e" />
<text transform="translate(98.96,373.2) rotate(-90)" font-size="6.8" text-anchor="start" fill="#333" stroke="#333">100%</text>
<text transform="translate(99.16,426.6) rotate(-45) scale(0.85,1)" font-size="9" text-anchor="end" fill="#333" stroke="#333">cHL8</text>
<rect x="103.38" y="374.60" width="8.80" height="44.00" fill="#c6c5ca" />
<rect x="103.38" y="374.60" width="8.80" height="44.00" fill="#a5022e" />
<text transform="translate(110.18,373.2) rotate(-90)" font-size="6.8" text-anchor="start" fill="#333" stroke="#333">100%</text>
<text transform="translate(110.38,426.6) rotate(-45) scale(0.85,1)" font-size="9" text-anchor="end" fill="#333" stroke="#333">cHL13</text>
<rect x="114.60" y="374.60" width="8.80" height="44.00" fill="#c6c5ca" />
<rect x="114.60" y="374.60" width="8.80" height="44.00" fill="#a5022e" />
<text transform="translate(121.40,373.2) rotate(-90)" font-size="6.8" text-anchor="start" fill="#333" stroke="#333">100%</text>
<text transform="translate(121.60,426.6) rotate(-45) scale(0.85,1)" font-size="9" text-anchor="end" fill="#333" stroke="#333">cHL11</text>
<rect x="125.82" y="374.60" width="8.80" height="44.00" fill="#c6c5ca" />
<rect x="125.82" y="374.60" width="8.80" height="44.00" fill="#a5022e" />
<text transform="translate(132.62,373.2) rotate(-90)" font-size="6.8" text-anchor="start" fill="#333" stroke="#333">100%</text>
<text transform="translate(132.82,426.6) rotate(-45) scale(0.85,1)" font-size="9" text-anchor="end" fill="#333" stroke="#333">cHL19</text>
<rect x="137.04" y="374.60" width="8.80" height="44.00" fill="#c6c5ca" />
<rect x="137.04" y="374.60" width="8.80" height="44.00" fill="#a5022e" />
<text transform="translate(143.84,373.2) rotate(-90)" font-size="6.8" text-anchor="start" fill="#333" stroke="#333">100%</text>
<text transform="translate(144.04,426.6) rotate(-45) scale(0.85,1)" font-size="9" text-anchor="end" fill="#333" stroke="#333">cHL6</text>
<rect x="148.26" y="374.60" width="8.80" height="44.00" fill="#c6c5ca" />
<rect x="148.26" y="374.60" width="8.80" height="44.00" fill="#a5022e" />
<text transform="translate(155.06,373.2) rotate(-90)" font-size="6.8" text-anchor="start" fill="#333" stroke="#333">100%</text>
<text transform="translate(155.26,426.6) rotate(-45) scale(0.85,1)" font-size="9" text-anchor="end" fill="#333" stroke="#333">cHL57*</text>
<rect x="159.48" y="374.60" width="8.80" height="44.00" fill="#c6c5ca" />
<rect x="159.48" y="378.56" width="8.80" height="40.04" fill="#a5022e" />
<text transform="translate(166.28,373.2) rotate(-90)" font-size="6.8" text-anchor="start" fill="#333" stroke="#333">91%</text>
<text transform="translate(166.48,426.6) rotate(-45) scale(0.85,1)" font-size="9" text-anchor="end" fill="#333" stroke="#333">UPN10</text>
<rect x="170.70" y="374.60" width="8.80" height="44.00" fill="#c6c5ca" />
<rect x="170.70" y="385.60" width="8.80" height="33.00" fill="#a5022e" />
<text transform="translate(177.50,373.2) rotate(-90)" font-size="6.8" text-anchor="start" fill="#333" stroke="#333">75%</text>
<text transform="translate(177.70,426.6) rotate(-45) scale(0.85,1)" font-size="9" text-anchor="end" fill="#333" stroke="#333">cHL15</text>
<rect x="181.92" y="374.60" width="8.80" height="44.00" fill="#c6c5ca" />
<rect x="181.92" y="389.30" width="8.80" height="29.30" fill="#a5022e" />
<text transform="translate(188.72,373.2) rotate(-90)" font-size="6.8" text-anchor="start" fill="#333" stroke="#333">66.6%</text>
<text transform="translate(188.92,426.6) rotate(-45) scale(0.85,1)" font-size="9" text-anchor="end" fill="#333" stroke="#333">cHL5</text>
<rect x="193.14" y="374.60" width="8.80" height="44.00" fill="#c6c5ca" />
<rect x="193.14" y="389.30" width="8.80" height="29.30" fill="#a5022e" />
<text transform="translate(199.94,373.2) rotate(-90)" font-size="6.8" text-anchor="start" fill="#333" stroke="#333">66.6%</text>
<text transform="translate(200.14,426.6) rotate(-45) scale(0.85,1)" font-size="9" text-anchor="end" fill="#333" stroke="#333">cHL7</text>
<rect x="204.36" y="374.60" width="8.80" height="44.00" fill="#c6c5ca" />
<rect x="204.36" y="396.60" width="8.80" height="22.00" fill="#a5022e" />
<text transform="translate(211.16,373.2) rotate(-90)" font-size="6.8" text-anchor="start" fill="#333" stroke="#333">50%</text>
<text transform="translate(211.36,426.6) rotate(-45) scale(0.85,1)" font-size="9" text-anchor="end" fill="#333" stroke="#333">cHL14</text>
<rect x="215.58" y="374.60" width="8.80" height="44.00" fill="#c6c5ca" />
<rect x="215.58" y="401.00" width="8.80" height="17.60" fill="#a5022e" />
<text transform="translate(222.38,373.2) rotate(-90)" font-size="6.8" text-anchor="start" fill="#333" stroke="#333">40%</text>
<text transform="translate(222.58,426.6) rotate(-45) scale(0.85,1)" font-size="9" text-anchor="end" fill="#333" stroke="#333">cHL12</text>
<text x="140.0" y="456.2" font-size="9" text-anchor="middle" fill="#333" stroke="#333" font-weight="normal" transform="translate(140,0) scale(0.85,1) translate(-140,0)" style="">Patient</text>
<text x="26.5" y="468.4" font-size="7.55" text-anchor="start" fill="#333" stroke="#333" font-weight="normal"  style="">*chemorefractory sample</text>
<rect x="0.7" y="0.7" width="518.6" height="475.6" fill="none" stroke="#000" stroke-width="1.4"/>
</svg>
</body></html>
